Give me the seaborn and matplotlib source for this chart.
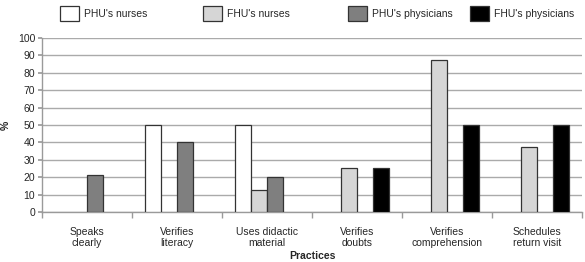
import numpy as np
import pandas as pd
import matplotlib
matplotlib.use("Agg")
import matplotlib.pyplot as plt
import seaborn as sns
from matplotlib.patches import Patch

categories = ["Speaks\nclearly", "Verifies\nliteracy", "Uses didactic\nmaterial",
              "Verifies\ndoubts", "Verifies\ncomprehension", "Schedules\nreturn visit"]
series = ["PHU's nurses", "FHU's nurses", "PHU's physicians", "FHU's physicians"]
phu_nurses = [0, 50, 50, 0, 0, 0]
fhu_nurses = [0, 0, 12.5, 25, 87.5, 37.5]
phu_physicians = [21, 40, 20, 0, 0, 0]
fhu_physicians = [0, 0, 0, 25, 50, 50]
colors = ["#ffffff", "#d6d6d6", "#7f7f7f", "#000000"]

rows = []
for s, vals in zip(series, [phu_nurses, fhu_nurses, phu_physicians, fhu_physicians]):
    for c, v in zip(categories, vals):
        if v > 0:
            rows.append({"Practice": c, "Group": s, "Value": v})
df = pd.DataFrame(rows)

sns.set_theme(style="white")
plt.rcParams['font.family'] = ['Liberation Sans', 'DejaVu Sans']

W, H = 585, 262
fig = plt.figure(figsize=(W / 100, H / 100), dpi=100)
ax = fig.add_axes([0.072, 0.191, 0.923, 0.664])

sns.barplot(data=df, x="Practice", y="Value", hue="Group", order=categories,
            hue_order=series, palette=colors, width=0.71, gap=0,
            edgecolor="#333333", linewidth=0.9, ax=ax, legend=False, zorder=3)

ax.set_ylim(0, 100)
ax.set_xlim(-0.5, len(categories) - 0.5)
ax.set_yticks(np.arange(0, 101, 10))
ax.yaxis.grid(True, color="#aaaaaa", linewidth=1.0, zorder=0)
ax.set_axisbelow(True)
for sp in ["top", "right"]:
    ax.spines[sp].set_visible(False)
for sp in ["left", "bottom"]:
    ax.spines[sp].set_color("#9a9a9a")
    ax.spines[sp].set_linewidth(1.0)

ax.tick_params(axis="y", labelsize=7.5, length=3, color="#9a9a9a", direction="out", pad=2, left=True)
ax.set_xticks(range(len(categories)))
ax.set_xticklabels(categories, fontsize=7.5, linespacing=1.1)
ax.tick_params(axis="x", which="major", length=0, pad=11)
ax.set_xticks(np.arange(-0.5, len(categories), 1.0), minor=True)
ax.tick_params(axis="x", which="minor", length=4, color="#9a9a9a", direction="out", bottom=True)

ax.set_ylabel("%", fontsize=7.5, fontweight="bold", labelpad=5)
ax.set_xlabel("Practices", fontsize=7.5, fontweight="bold", labelpad=2)

patch_left = [60, 203, 348, 470]
for px, c, s in zip(patch_left, colors, series):
    h = Patch(facecolor=c, edgecolor="#333333", linewidth=0.9)
    fig.legend([h], [s], loc="center left", bbox_to_anchor=(px / W, 1 - 13.5 / H),
               frameon=False, fontsize=7.5, handlelength=1.85, handleheight=1.85,
               handletextpad=0.45, borderpad=0, borderaxespad=0)

fig.savefig("out.png", dpi=100)
